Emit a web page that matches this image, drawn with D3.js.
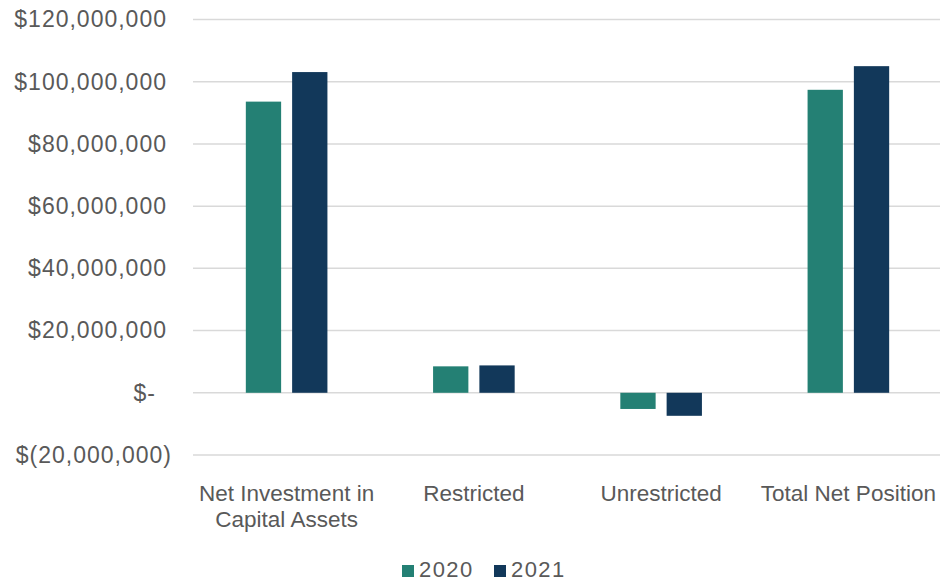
<!DOCTYPE html>
<html>
<head>
<meta charset="utf-8">
<script src="https://cdn.jsdelivr.net/npm/d3@7"></script>
<style>
  html, body { margin: 0; padding: 0; background: #fff; }
  svg text { font-family: "Liberation Sans", Arial, sans-serif; fill: #595959; }
</style>
</head>
<body>
<svg id="chart" width="940" height="582"></svg>
<script>
// Net position by component, fiscal years 2020 and 2021
const categories = [["Net Investment in", "Capital Assets"], ["Restricted"], ["Unrestricted"], ["Total Net Position"]];
const years = ["2020", "2021"];
const values2020 = [93600000, 8500000, -5200000, 97400000];
const values2021 = [103100000, 8800000, -7400000, 105000000];
const yTicks = [-20000000, 0, 20000000, 40000000, 60000000, 80000000, 100000000, 120000000];
const colors = ["#248074", "#12385A"];

const svg = d3.select("#chart");
const x = d3.scaleBand().domain(d3.range(categories.length)).range([193, 942]);
const y = d3.scaleLinear().domain([-20000000, 120000000]).range([455, 19.5]);

// accounting-style currency labels
const fmt = v => v === 0 ? "$-" : (v < 0 ? "$(" + d3.format(",")(-v) + ")" : "$" + d3.format(",")(v));

// gridlines
svg.append("g").selectAll("line").data(yTicks).join("line")
  .attr("x1", 193).attr("x2", 940)
  .attr("y1", d => y(d)).attr("y2", d => y(d))
  .attr("stroke", "#D9D9D9").attr("stroke-width", 1.5);

// y axis labels
const yAxis = d3.axisLeft(y).tickValues(yTicks).tickFormat(fmt).tickSize(0).tickPadding(0);
const ga = svg.append("g").attr("transform", "translate(167,0)").call(yAxis);
ga.select(".domain").remove();
ga.selectAll("text")
  .attr("font-size", 23).attr("letter-spacing", 1).attr("fill", "#595959")
  .attr("font-family", "Liberation Sans, Arial, sans-serif")
  .attr("dx", d => d === 0 ? -11 : (d < 0 ? 5 : 0));

// bars
const series = [values2020, values2021];
const barW = 35.3, innerGap = 11;
series.forEach((vals, s) => {
  svg.append("g").selectAll("rect").data(vals).join("rect")
    .attr("x", (d, i) => x(i) + x.bandwidth() / 2 + (s === 0 ? -(barW + innerGap / 2) : innerGap / 2))
    .attr("width", barW)
    .attr("y", d => y(Math.max(0, d)))
    .attr("height", d => Math.abs(y(d) - y(0)))
    .attr("fill", colors[s]);
});

// category labels
const cl = svg.append("g").selectAll("text").data(categories).join("text")
  .attr("x", (d, i) => x(i) + x.bandwidth() / 2)
  .attr("y", 501)
  .attr("text-anchor", "middle")
  .attr("font-size", 22.5);
cl.selectAll("tspan").data(d => d).join("tspan")
  .attr("x", function () { return d3.select(this.parentNode).attr("x"); })
  .attr("dy", (d, i) => i === 0 ? 0 : 26)
  .text(d => d);

// legend
const legend = svg.append("g");
const legX = [402, 494];
years.forEach((yr, i) => {
  legend.append("rect").attr("x", legX[i]).attr("y", 565).attr("width", 12).attr("height", 12).attr("fill", colors[i]);
  legend.append("text").attr("x", legX[i] + 17).attr("y", 577)
    .attr("font-size", 22).attr("letter-spacing", 1.4).text(yr);
});
</script>
</body>
</html>
